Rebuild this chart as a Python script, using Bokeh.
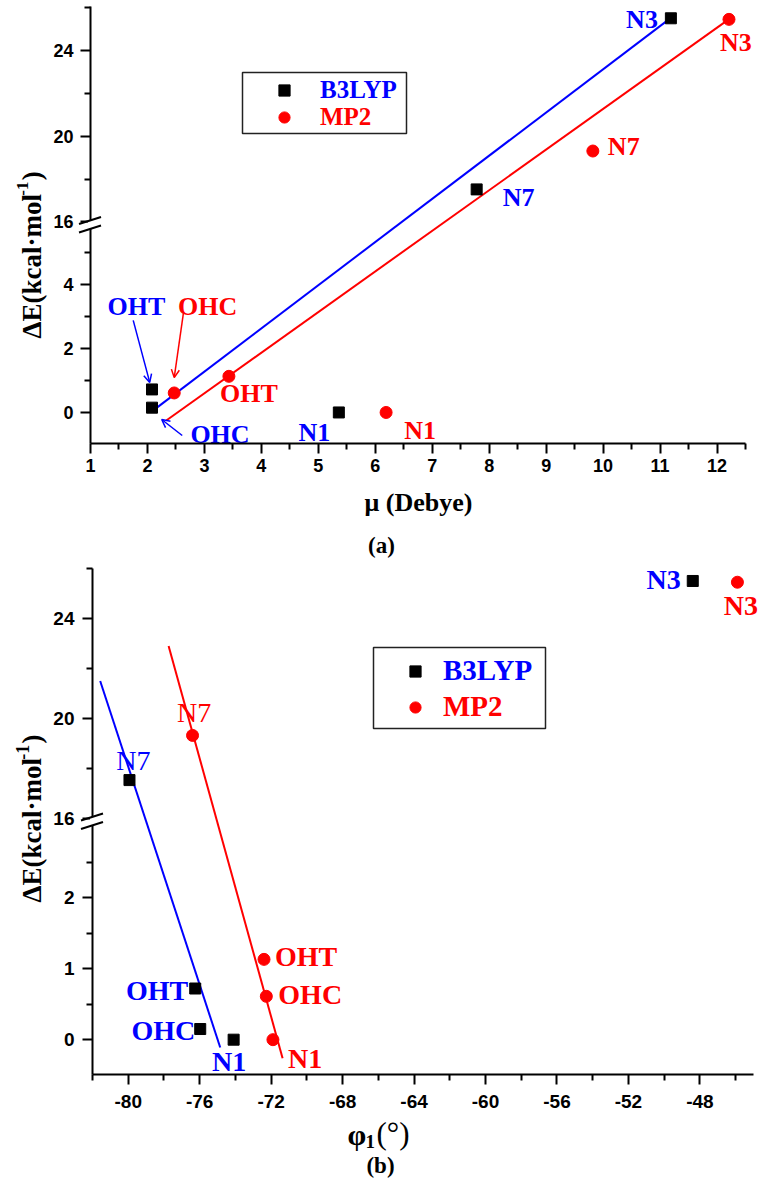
import math
from bokeh.plotting import figure
from bokeh.models import Range1d, FixedTicker, Label, Legend, Arrow, OpenHead, BoxAnnotation
from bokeh.layouts import column
from bokeh.core.properties import value
from bokeh.embed import file_html
from bokeh.resources import INLINE

# ---------------- data ----------------
names = ["OHT", "OHC", "N1", "N7", "N3"]
dE_b3lyp = [0.72, 0.15, 0.0, 17.52, 25.5]
dE_mp2 = [1.13, 0.61, 0.0, 19.31, 25.45]
mu_b3lyp = [2.08, 2.08, 5.36, 7.78, 11.19]
mu_mp2 = [3.43, 2.47, 6.19, 9.82, 12.21]
phi_b3lyp = [-76.25, -75.97, -74.1, -79.93, -48.4]
phi_mp2 = [-72.4, -72.27, -71.9, -76.4, -45.9]

fit_a_b3lyp_x = [2.12, 11.23]
fit_a_b3lyp_y = [0.09, 25.6]
fit_a_mp2_x = [2.33, 12.18]
fit_a_mp2_y = [-0.25, 25.4]
fit_b_b3lyp_x = [-81.57, -74.85]
fit_b_b3lyp_y = [21.49, -0.11]
fit_b_mp2_x = [-77.74, -71.36]
fit_b_mp2_y = [22.89, -0.26]

xticks_a = [1, 2, 3, 4, 5, 6, 7, 8, 9, 10, 11, 12]
xminor_a = [1.5, 2.5, 3.5, 4.5, 5.5, 6.5, 7.5, 8.5, 9.5, 10.5, 11.5, 12.5]
xticks_b = [-80, -76, -72, -68, -64, -60, -56, -52, -48]
xminor_b = [-82, -78, -74, -70, -66, -62, -58, -54, -50, -46]
yticks_a = [0, 2, 4, 16, 20, 24]
yminor_a = [1, 3, 5, 18, 22, 26]
yticks_b = [0, 1, 2, 16, 20, 24]
yminor_b = [0.5, 1.5, 2.5, 18, 22, 26]

BLUE = "#0000FF"
RED = "#FF0000"
SERIF = "Liberation Serif"
SANS = "Liberation Sans"


def make_T(lo, up, split=0.5):
    mid = (lo[1] + up[0]) / 2.0

    def T(v):
        if v <= mid:
            return split * (v - lo[0]) / (lo[1] - lo[0])
        return split + (1 - split) * (v - up[0]) / (up[1] - up[0])
    return T


class Geo:
    """Maps page pixels to data coordinates of a panel whose frame fills the canvas."""

    def __init__(self, W, H, top_abs, left, right, dtop, dbot, xr):
        self.W, self.H, self.top_abs = W, H, top_abs
        self.dtop, self.dbot = dtop, dbot
        self.pxu = (right - left) / (xr[1] - xr[0])
        self.x_start = xr[0] - left / self.pxu
        self.x_end = xr[1] + (W - right) / self.pxu
        self.fh = float(dbot - dtop)
        self.y_start = -(H - dbot) / self.fh
        self.y_end = 1 + dtop / self.fh

    def ax(self, X):
        return self.x_start + X / self.pxu

    def ay(self, Y):
        return (self.dbot - (Y - self.top_abs)) / self.fh

    def dx(self, px):
        return px / self.pxu

    def dy(self, py):
        return py / self.fh


def build(cfg):
    T = cfg["T"]
    g = cfg["geo"]
    xr = cfg["xr"]
    p = figure(width=g.W, height=g.H, x_range=Range1d(g.x_start, g.x_end),
               y_range=Range1d(g.y_start, g.y_end),
               output_backend="svg", toolbar_location=None,
               min_border=0, min_border_left=0, min_border_right=0,
               min_border_top=0, min_border_bottom=0)
    p.grid.visible = False
    p.outline_line_color = None
    p.background_fill_color = "white"
    p.border_fill_color = "white"

    xa, ya = p.xaxis[0], p.yaxis[0]
    for ax in (xa, ya):
        ax.axis_line_width = 2
        ax.major_tick_line_width = 2
        ax.minor_tick_line_width = 2
        ax.major_tick_in = 0
        ax.minor_tick_in = 0
        ax.major_tick_out = 10
        ax.minor_tick_out = 6
        ax.major_label_text_color = None   # tick labels drawn below in bold
    xa.fixed_location = 0
    xa.bounds = xr
    ya.fixed_location = xr[0]
    ya.bounds = (0, 1)
    xa.ticker = FixedTicker(ticks=cfg["xt"], minor_ticks=cfg["xm"])
    ya.ticker = FixedTicker(ticks=[T(v) for v in cfg["yt"]], minor_ticks=[T(v) for v in cfg["ym"]])

    # bold tick labels (placed on the axes through the scales)
    tfs = cfg["tick_fs"]
    p.text(x=cfg["xt"], y=[0] * len(cfg["xt"]), text=[str(v) for v in cfg["xt"]],
           y_offset=cfg["xlab_off"], text_align="center", text_baseline="middle",
           text_font=value(SANS), text_font_style="bold", text_font_size=tfs, text_color="black")
    p.text(x=[xr[0]] * len(cfg["yt"]), y=[T(v) for v in cfg["yt"]], text=[str(v) for v in cfg["yt"]],
           x_offset=cfg["ylab_off"], text_align="right", text_baseline="middle",
           text_font=value(SANS), text_font_style="bold", text_font_size=tfs, text_color="black")

    # fit lines
    p.line(cfg["fit_b"][0], [T(v) for v in cfg["fit_b"][1]], line_color=BLUE, line_width=2)
    p.line(cfg["fit_m"][0], [T(v) for v in cfg["fit_m"][1]], line_color=RED, line_width=2)

    # points
    rb = p.scatter(cfg["xb"], [T(v) for v in dE_b3lyp], marker="square", size=11, color="black")
    rm = p.scatter(cfg["xm_"], [T(v) for v in dE_mp2], marker="circle", size=12, color=RED)

    # point labels
    for xs, ys, specs, col in ((cfg["xb"], dE_b3lyp, cfg["lab_b"], BLUE),
                               (cfg["xm_"], dE_mp2, cfg["lab_m"], RED)):
        for i, nm in enumerate(names):
            align, ox, oy, style = specs[i]
            p.text(x=[xs[i]], y=[T(ys[i])], text=[nm], x_offset=ox, y_offset=oy,
                   text_align=align, text_baseline="middle", text_color=col,
                   text_font=value(SERIF), text_font_style=style, text_font_size=cfg["lab_fs"])

    # break marks on the y axis
    x0 = xr[0]
    p.add_layout(Arrow(end=None, x_start=x0, y_start=0.5 - g.dy(3.5), x_end=x0, y_end=0.5 + g.dy(4.5),
                       line_color="white", line_width=5))
    for off in (1.0, -7.5):
        p.add_layout(Arrow(end=None, x_start=x0 - g.dx(11.5), y_start=0.5 + g.dy(off),
                           x_end=x0 + g.dx(10.5), y_end=0.5 + g.dy(off + 7),
                           line_color="black", line_width=2))

    # legend box + legends
    lb = cfg["leg_box"]
    p.add_layout(BoxAnnotation(left=g.ax(lb[0]), right=g.ax(lb[1]), bottom=g.ay(lb[3]), top=g.ay(lb[2]),
                               fill_alpha=0, fill_color=None, line_color="#222222", line_width=1.5,
                               line_alpha=1))
    for lab, r, col, (lx, ly) in (("B3LYP", rb, BLUE, cfg["leg_b"]), ("MP2", rm, RED, cfg["leg_m"])):
        lg = Legend(items=[(lab, [r])], location=(lx, ly), padding=0, margin=0, spacing=0,
                    border_line_color=None, background_fill_alpha=0,
                    glyph_width=28, glyph_height=28, label_height=28,
                    label_standoff=cfg["leg_standoff"],
                    label_text_font=SERIF, label_text_font_style="bold",
                    label_text_font_size=cfg["leg_fs"], label_text_color=col)
        p.add_layout(lg, "center")

    # y axis title (composed, rotated)
    yx, y0, fs, sfs = cfg["ylab"]
    wmain = 5.25 * fs
    common = dict(angle=math.pi / 2, text_baseline="middle", text_align="left",
                  text_font=SERIF, text_font_style="bold", text_color="black")
    p.add_layout(Label(x=g.ax(yx), y=g.ay(y0), text="ΔE(kcal·mol", text_font_size=f"{fs}px", **common))
    p.add_layout(Label(x=g.ax(yx - 0.33 * fs), y=g.ay(y0 - wmain - 1), text="-1",
                       text_font_size=f"{sfs}px", **common))
    p.add_layout(Label(x=g.ax(yx), y=g.ay(y0 - wmain - 2 - 0.85 * sfs), text=")",
                       text_font_size=f"{fs}px", **common))

    for (tx, ty, txt, tfs2, align, style) in cfg["extra_labels"]:
        p.add_layout(Label(x=g.ax(tx), y=g.ay(ty), text=txt,
                           text_align=align, text_baseline="middle", text_font=SERIF,
                           text_font_style=style, text_font_size=tfs2, text_color="black"))
    return p


# ---------------- panel (a) ----------------
Ta = make_T((-0.97, 5.86), (15.86, 26.05))
geo_a = Geo(760, 560, 0, 90, 745, 6, 443, (1, 12.5))
cfg_a = dict(
    T=Ta, geo=geo_a, xr=(1, 12.5),
    xt=xticks_a, xm=xminor_a, yt=yticks_a, ym=yminor_a, tick_fs="18px",
    xlab_off=22, ylab_off=-17,
    fit_b=(fit_a_b3lyp_x, fit_a_b3lyp_y), fit_m=(fit_a_mp2_x, fit_a_mp2_y),
    xb=mu_b3lyp, xm_=mu_mp2, lab_fs="26px",
    lab_b=[("center", -15.5, -82.5, "bold"), ("center", 68, 26.5, "bold"), ("center", -24.5, 20.5, "bold"),
           ("left", 26, 8.5, "bold"), ("right", -13, 1.5, "bold")],
    lab_m=[("center", 20, 17.5, "bold"), ("center", 33.5, -86.5, "bold"), ("center", 34, 18, "bold"),
           ("left", 15, -5, "bold"), ("center", 7, 23.5, "bold")],
    leg_box=(242, 406, 72, 133), leg_b=(270, 456), leg_m=(270, 429), leg_standoff=22, leg_fs="25px",
    ylab=(31, 338, 27, 17),
    extra_labels=[(418, 502, "μ (Debye)", "26px", "center", "bold"),
                  (381, 545, "(a)", "23px", "center", "bold")],
)
pa = build(cfg_a)

# arrows pointing to the crowded points in (a)
arrow_specs = [((1.75, 2.88), (2.04, 0.94), BLUE), ((2.63, 3.09), (2.47, 1.09), RED),
               ((2.61, -0.72), (2.25, -0.22), BLUE)]
for (xs0, ys0), (xs1, ys1), col in arrow_specs:
    pa.add_layout(Arrow(end=OpenHead(size=8, line_color=col, line_width=1.5),
                        x_start=xs0, y_start=Ta(ys0), x_end=xs1, y_end=Ta(ys1),
                        line_color=col, line_width=1.5))

# ---------------- panel (b) ----------------
Tb = make_T((-0.49, 3.07), (15.86, 26.0))
geo_b = Geo(760, 620, 560, 92, 753, 8, 514, (-82, -45))
cfg_b = dict(
    T=Tb, geo=geo_b, xr=(-82, -45),
    xt=xticks_b, xm=xminor_b, yt=yticks_b, ym=yminor_b, tick_fs="19px",
    xlab_off=27, ylab_off=-18,
    fit_b=(fit_b_b3lyp_x, fit_b_b3lyp_y), fit_m=(fit_b_mp2_x, fit_b_mp2_y),
    xb=phi_b3lyp, xm_=phi_mp2, lab_fs="28px",
    lab_b=[("right", -7, 1.5, "bold"), ("right", -5, 1.5, "bold"), ("center", -4.5, 21.5, "bold"),
           ("center", 4, -19.5, "normal"), ("right", -12, -1, "bold")],
    lab_m=[("left", 11, -3, "bold"), ("left", 12, -1.5, "bold"), ("left", 15, 18.5, "bold"),
           ("center", 1.5, -23, "normal"), ("center", 3.5, 23, "bold")],
    leg_box=(373, 545, 647, 728), leg_b=(401, 493), leg_m=(401, 457), leg_standoff=14, leg_fs="29px",
    ylab=(31, 902, 27, 18),
    extra_labels=[(380, 1165, "(b)", "23px", "center", "bold"),
                  (347, 1134, "φ", "30px", "left", "bold"),
                  (365, 1141, "1", "19px", "left", "bold"),
                  (376, 1133, "(°)", "31px", "left", "normal")],
)
pb = build(cfg_b)

layout = column(pa, pb, spacing=0)
open("out.html", "w").write(file_html(layout, INLINE))
